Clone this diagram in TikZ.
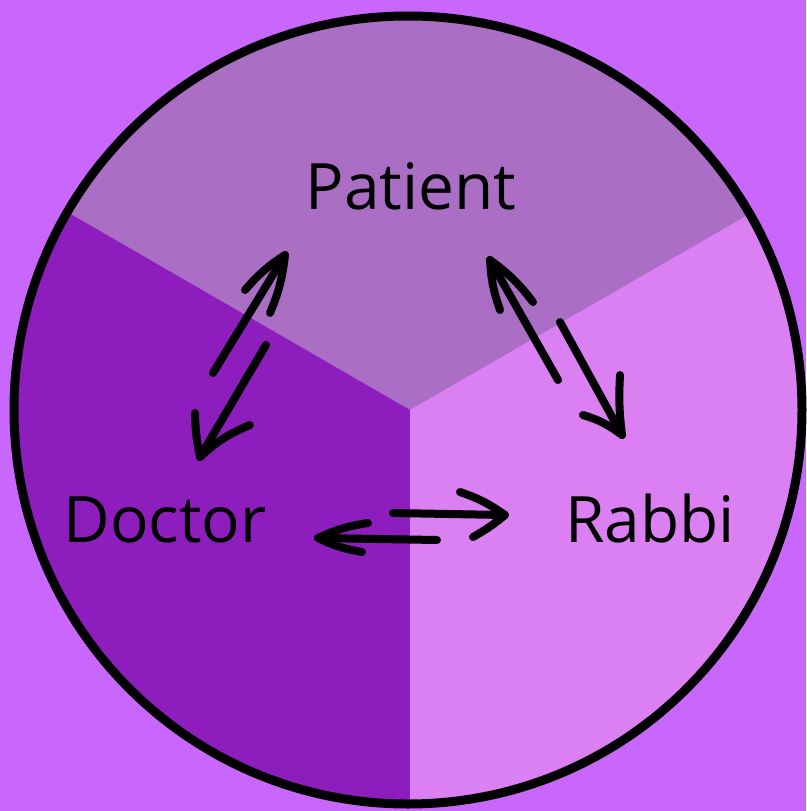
\documentclass[tikz,border=0pt]{standalone}
\usepackage{fontspec}
\setmainfont{Open Sans}
\definecolor{bgpurple}{RGB}{201,102,252}
\definecolor{toppurple}{RGB}{170,111,196}
\definecolor{leftpurple}{RGB}{141,30,189}
\definecolor{rightpurple}{RGB}{218,128,243}
\tikzset{
  label/.style={anchor=base, inner sep=0pt, font=\fontsize{64}{72}\selectfont},
  stroke/.style={line width=8pt, line cap=round, line join=round, black},
}
\begin{document}
\begin{tikzpicture}[x=1pt,y=-1pt]
\useasboundingbox (0,0) rectangle (806,811);
\fill[bgpurple] (0,0) rectangle (806,811);
\begin{scope}
\clip (408,410) circle[radius=394];
\fill[toppurple] (410,410) -- (-456,-90) -- (-456,-600) -- (1276,-600) -- (1276,-90) -- cycle;
\fill[leftpurple] (410,410) -- (-456,-90) -- (-456,1300) -- (410,1300) -- cycle;
\fill[rightpurple] (410,410) -- (410,1300) -- (1276,1300) -- (1276,-90) -- cycle;
\end{scope}
\draw[line width=9pt] (408,410) circle[radius=394];

\node[label] (patient) at (411,209) {Patient};
\node[label] (doctor) at (165,542) {Doctor};
\node[label] (rabbi) at (650,542) {Rabbi};

% Patient <-> Doctor
\coordinate (a1s) at (213,373); \coordinate (a1t) at (285,255);
\coordinate (a1b) at (245,290); \coordinate (a1c) at (270,313);
\draw[stroke] (a1s) -- (a1t);
\draw[stroke] (a1b) to[bend left=8] (a1t) to[bend left=8] (a1c);
\coordinate (a2s) at (266,345); \coordinate (a2t) at (200,457);
\coordinate (a2b) at (195,413); \coordinate (a2c) at (250,425);
\draw[stroke] (a2s) -- (a2t);
\draw[stroke] (a2b) to[bend right=5] (a2t) to[bend left=10] (a2c);

% Patient <-> Rabbi
\coordinate (a3s) at (558,380); \coordinate (a3t) at (490,260);
\coordinate (a3b) at (500,310); \coordinate (a3c) at (533,302);
\draw[stroke] (a3s) -- (a3t);
\draw[stroke] (a3b) to[bend left=8] (a3t) to[bend left=8] (a3c);
\coordinate (a4s) at (560,322); \coordinate (a4t) at (622,435);
\coordinate (a4b) at (620,375); \coordinate (a4c) at (583,415);
\draw[stroke] (a4s) -- (a4t);
\draw[stroke] (a4b) to[bend right=5] (a4t) to[bend right=10] (a4c);

% Doctor <-> Rabbi
\coordinate (a5s) at (393,513); \coordinate (a5t) at (505,515);
\coordinate (a5b) at (460,492); \coordinate (a5c) at (473,537);
\draw[stroke] (a5s) -- (a5t);
\draw[stroke] (a5b) to[bend left=8] (a5t) to[bend left=5] (a5c);
\coordinate (a6s) at (437,540); \coordinate (a6t) at (318,538);
\coordinate (a6b) at (368,523); \coordinate (a6c) at (362,552);
\draw[stroke] (a6s) -- (a6t);
\draw[stroke] (a6b) to[bend right=8] (a6t) to[bend right=8] (a6c);
\end{tikzpicture}
\end{document}
